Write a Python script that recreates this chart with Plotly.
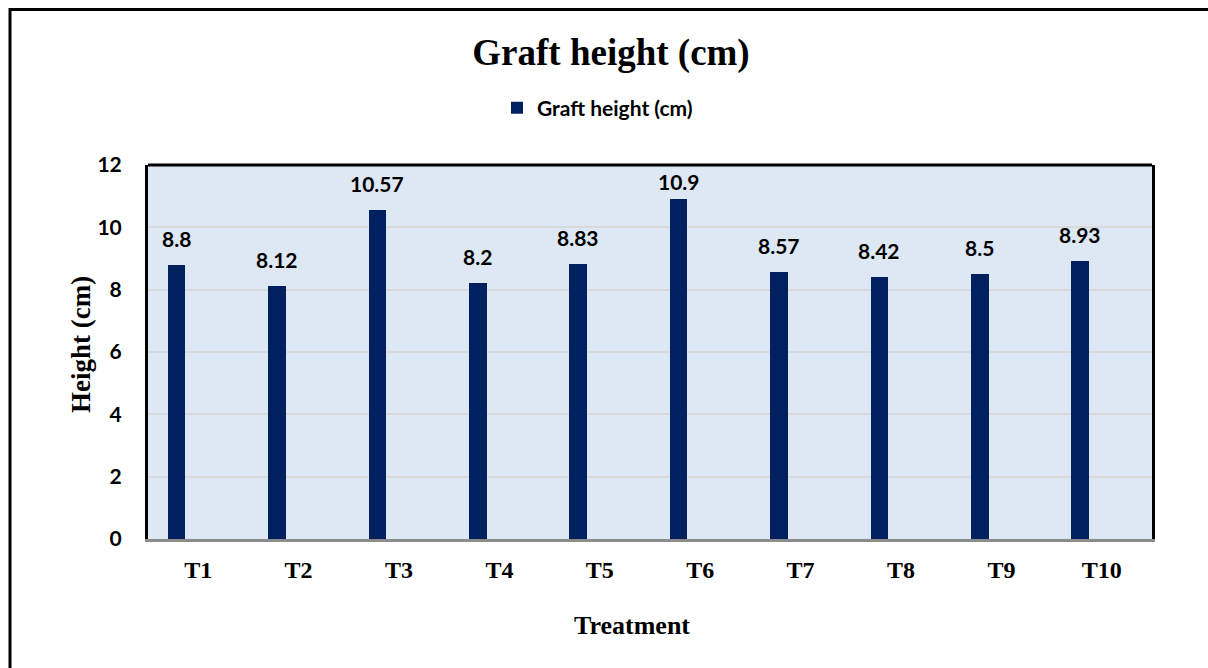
import plotly.graph_objects as go

categories = ["T1", "T2", "T3", "T4", "T5", "T6", "T7", "T8", "T9", "T10"]
graft_height = [8.8, 8.12, 10.57, 8.2, 8.83, 10.9, 8.57, 8.42, 8.5, 8.93]
y_ticks = [0, 2, 4, 6, 8, 10, 12]
series_name = "Graft height (cm)"

W, H = 1208, 668
ML, MR, MT, MB = 148, 56, 165, 129
PW = W - ML - MR
PH = H - MT - MB
Y_MAX = 12
BAR_OFFSET = -0.303
BAR_WIDTH = 0.175
cat_px = PW / len(categories)
px_per_unit = PH / Y_MAX
label_xshift = (BAR_OFFSET + BAR_WIDTH / 2) * cat_px

SANS = "Lato"
SERIF = "Liberation Serif"
NAVY = "#002060"

fig = go.Figure()
fig.add_trace(go.Bar(
    x=categories, y=graft_height, name=f"<b>{series_name}</b>",
    marker=dict(color=NAVY, line=dict(width=0)),
    offset=BAR_OFFSET, width=BAR_WIDTH,
    hoverinfo="x+y",
))

# data labels: 25px above bar top, kept inside the plot area (like Excel)
for c, v in zip(categories, graft_height):
    gap_top = (Y_MAX - v) * px_per_unit
    center = gap_top - 25
    yshift = 12 if center >= 18 else 12 - (18 - center)
    fig.add_annotation(
        x=c, y=v, xref="x", yref="y", text=f"<b>{v:g}</b>", showarrow=False,
        xshift=label_xshift, yshift=yshift, yanchor="bottom", xanchor="center",
        font=dict(family=SANS, size=21, color="#000000"),
    )

def px_to_paper_x(px):
    return (px - ML) / PW

def px_to_paper_y(py):
    return (H - MB - py) / PH

# outer frame
fig.add_shape(type="rect", xref="paper", yref="paper",
              x0=px_to_paper_x(10), x1=px_to_paper_x(1230),
              y0=px_to_paper_y(700), y1=px_to_paper_y(9.5),
              line=dict(color="#000000", width=3), layer="above")
# plot area top border
fig.add_shape(type="line", xref="paper", yref="paper",
              x0=0, x1=1, y0=1, y1=1,
              line=dict(color="#000000", width=3), layer="above")

# axis titles
fig.add_annotation(x=px_to_paper_x(632), y=px_to_paper_y(625), xref="paper", yref="paper",
                   text="<b>Treatment</b>", showarrow=False, xanchor="center", yanchor="middle",
                   font=dict(family=SERIF, size=26, color="#000000"))
fig.add_annotation(x=px_to_paper_x(81), y=px_to_paper_y(345), xref="paper", yref="paper",
                   text="<b>Height (cm)</b>", showarrow=False, textangle=-90,
                   xanchor="center", yanchor="middle",
                   font=dict(family=SERIF, size=27, color="#000000"))

fig.update_layout(
    width=W, height=H,
    margin=dict(l=ML, r=MR, t=MT, b=MB, autoexpand=False),
    paper_bgcolor="#FFFFFF",
    plot_bgcolor="#DEE8F4",
    title=dict(text="<b>Graft height (cm)</b>", x=611 / W, xref="container", xanchor="center",
               y=1 - 52 / H, yref="container", yanchor="middle",
               font=dict(family=SERIF, size=37, color="#000000")),
    showlegend=True,
    legend=dict(orientation="h", x=497 / W, xref="container", xanchor="left",
                y=1 - 108 / H, yref="container", yanchor="middle",
                font=dict(family=SANS, size=21, color="#000000"),
                bgcolor="rgba(0,0,0,0)"),
    bargap=0,
    xaxis=dict(
        type="category", categoryorder="array", categoryarray=categories,
        showgrid=False, zeroline=False,
        showline=True, linecolor="#8C8C8C", linewidth=3,
        ticks="outside", ticklen=7, tickcolor="rgba(0,0,0,0)",
        tickfont=dict(family=SERIF, size=24, color="#000000"),
        tickprefix="<b>", ticksuffix="</b>",
        fixedrange=True,
    ),
    yaxis=dict(
        range=[0, Y_MAX], tickvals=y_ticks, ticktext=[f"<b>{t}</b>" for t in y_ticks],
        showgrid=True, gridcolor="#D9D9D9", gridwidth=1.5,
        zeroline=False,
        showline=True, linecolor="#000000", linewidth=3, mirror=True,
        ticks="outside", ticklen=19, tickcolor="rgba(0,0,0,0)",
        tickfont=dict(family=SANS, size=21, color="#000000"),
        fixedrange=True,
    ),
)

fig.write_html("out.html",
               config={"displayModeBar": False},
               post_script="document.body.style.margin='0px';document.body.style.overflow='hidden';")
